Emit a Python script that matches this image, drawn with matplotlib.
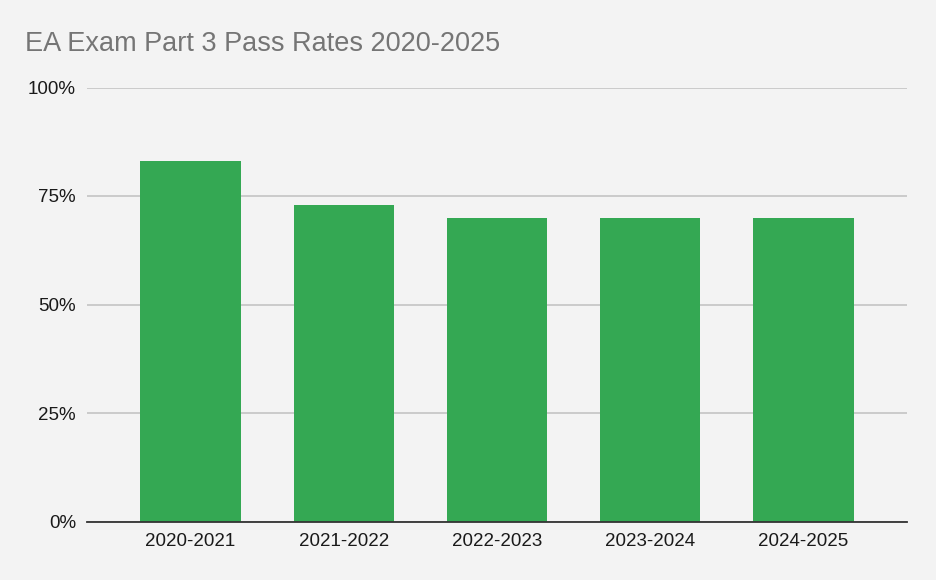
import matplotlib.pyplot as plt
from matplotlib.ticker import FuncFormatter

# data
years = ["2020-2021", "2021-2022", "2022-2023", "2023-2024", "2024-2025"]
pass_rates = [83, 73, 70, 70, 70]
y_ticks = [0, 25, 50, 75, 100]

plt.rcParams['font.family'] = ['Liberation Sans', 'DejaVu Sans']

bg = '#f3f3f3'
fig = plt.figure(figsize=(9.36, 5.8), dpi=100, facecolor=bg)
ax = fig.add_axes([87 / 936, 58.5 / 580, 820 / 936, 434 / 580], facecolor=bg)

x = range(len(years))
ax.bar(x, pass_rates, width=0.654, color='#34a853', zorder=3)

ax.set_xlim(-0.675, len(years) - 1 + 0.675)
ax.set_ylim(0, 100)
ax.set_yticks(y_ticks)
ax.yaxis.set_major_formatter(FuncFormatter(lambda v, p: f"{v:.0f}%"))
ax.set_xticks(list(x))
ax.set_xticklabels(years)

ax.grid(axis='y', color='#c0c0c0', linewidth=1.1, zorder=0)
ax.tick_params(axis='both', length=0, labelsize=13.5, colors='#1a1a1a')
ax.tick_params(axis='y', pad=8)
ax.tick_params(axis='x', pad=8)

for side in ['top', 'right', 'left']:
    ax.spines[side].set_visible(False)
ax.spines['bottom'].set_color('#333333')
ax.spines['bottom'].set_linewidth(1.3)
ax.spines['bottom'].set_zorder(4)

fig.text(25 / 936, 1 - 44 / 580, "EA Exam Part 3 Pass Rates 2020-2025",
         fontsize=19.5, color='#757575', va='center', ha='left')

fig.savefig('out.png', dpi=100, facecolor=bg)
